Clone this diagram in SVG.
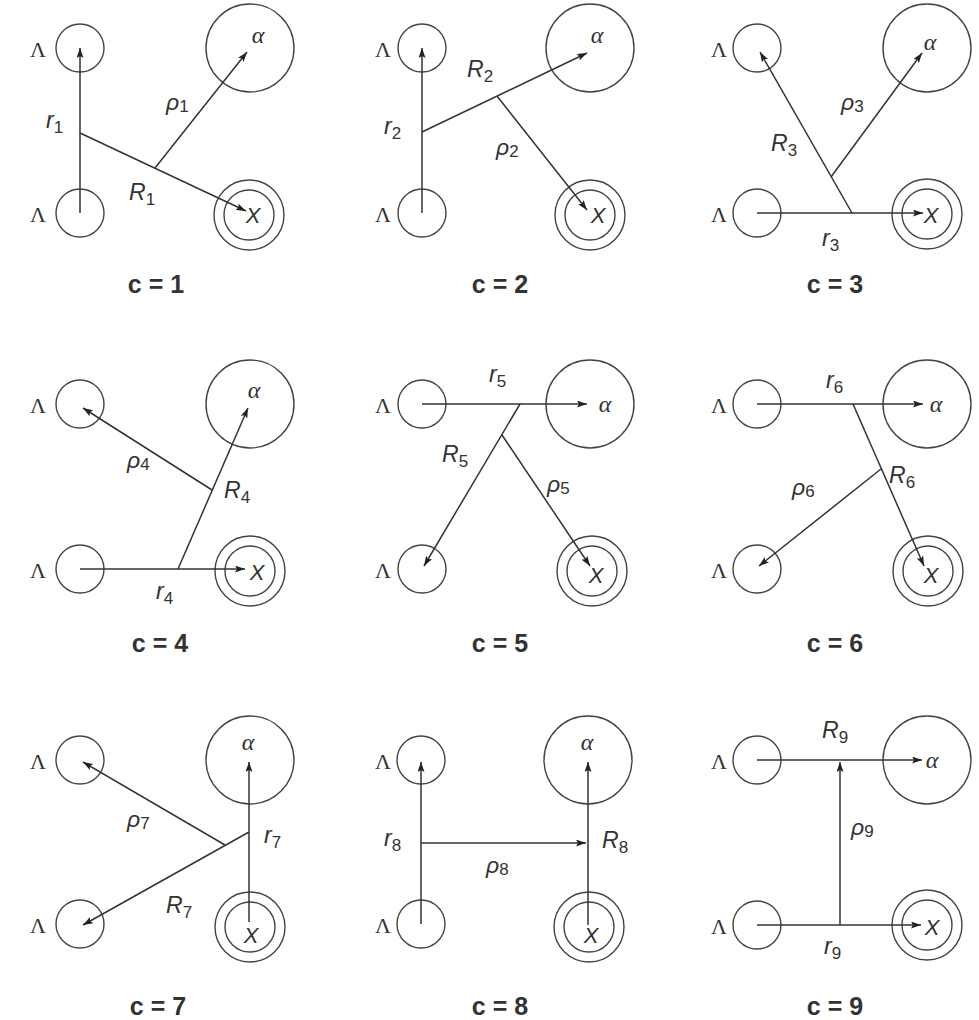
<svg xmlns="http://www.w3.org/2000/svg" width="979" height="1020" viewBox="0 0 979 1020">
<style>
.nd circle{fill:none;stroke:#444;stroke-width:1.4}
.cn path{fill:none;stroke:#333;stroke-width:1.5;marker-end:url(#ah)}
.lam{font-family:"Liberation Serif",serif;font-size:22px;fill:#333;text-anchor:end}
.al{font-family:"Liberation Serif",serif;font-style:italic;font-size:24px;fill:#333;text-anchor:middle}
.xx{font-family:"Liberation Sans",sans-serif;font-style:italic;font-size:22px;fill:#333;text-anchor:middle}
.lb{font-family:"Liberation Sans",sans-serif;font-style:italic;font-size:23px;fill:#333}
.sb{font-style:normal;font-size:17px}
.cap{font-family:"Liberation Sans",sans-serif;font-weight:bold;font-size:25px;fill:#333;text-anchor:middle}
</style>
<defs>
<marker id="ah" viewBox="0 0 10 7" refX="10" refY="3.5" markerWidth="10" markerHeight="7" orient="auto" markerUnits="userSpaceOnUse"><path d="M0,0 L10,3.5 L0,7 L2,3.5 z" fill="#222"/></marker>
</defs>

<!-- Panel 1 -->
<g id="p1">
<g id="p1-lt" class="nd"><circle cx="80" cy="48" r="24"/><text class="lam" x="46" y="57">Λ</text></g>
<g id="p1-lb" class="nd"><circle cx="80" cy="213" r="24"/><text class="lam" x="46" y="222">Λ</text></g>
<g id="p1-a" class="nd"><circle cx="250" cy="48" r="44"/><text class="al" x="258" y="43">α</text></g>
<g id="p1-x" class="nd"><circle cx="249" cy="215" r="35"/><circle cx="249" cy="215" r="25"/><text class="xx" x="253" y="223">X</text></g>
</g>
<!-- Panel 2 -->
<g id="p2">
<g id="p2-lt" class="nd"><circle cx="422" cy="48" r="24"/><text class="lam" x="391" y="57">Λ</text></g>
<g id="p2-lb" class="nd"><circle cx="422" cy="213" r="24"/><text class="lam" x="391" y="222">Λ</text></g>
<g id="p2-a" class="nd"><circle cx="590" cy="48" r="44"/><text class="al" x="597" y="43">α</text></g>
<g id="p2-x" class="nd"><circle cx="590" cy="215" r="35"/><circle cx="590" cy="215" r="25"/><text class="xx" x="598" y="223">X</text></g>
</g>
<!-- Panel 3 -->
<g id="p3">
<g id="p3-lt" class="nd"><circle cx="757" cy="48" r="24"/><text class="lam" x="727" y="57">Λ</text></g>
<g id="p3-lb" class="nd"><circle cx="757" cy="213" r="24"/><text class="lam" x="727" y="222">Λ</text></g>
<g id="p3-a" class="nd"><circle cx="927" cy="48" r="44"/><text class="al" x="930" y="50">α</text></g>
<g id="p3-x" class="nd"><circle cx="927" cy="214" r="35"/><circle cx="927" cy="214" r="25"/><text class="xx" x="931" y="223">X</text></g>
</g>
<!-- Panel 4 -->
<g id="p4">
<g id="p4-lt" class="nd"><circle cx="80" cy="404" r="24"/><text class="lam" x="46" y="413">Λ</text></g>
<g id="p4-lb" class="nd"><circle cx="80" cy="569" r="24"/><text class="lam" x="46" y="578">Λ</text></g>
<g id="p4-a" class="nd"><circle cx="250" cy="404" r="44"/><text class="al" x="254" y="398">α</text></g>
<g id="p4-x" class="nd"><circle cx="250" cy="571" r="35"/><circle cx="250" cy="571" r="25"/><text class="xx" x="257" y="580">X</text></g>
</g>
<!-- Panel 5 -->
<g id="p5">
<g id="p5-lt" class="nd"><circle cx="422" cy="404" r="24"/><text class="lam" x="391" y="413">Λ</text></g>
<g id="p5-lb" class="nd"><circle cx="422" cy="569" r="24"/><text class="lam" x="391" y="578">Λ</text></g>
<g id="p5-a" class="nd"><circle cx="590" cy="404" r="44"/><text class="al" x="605" y="412">α</text></g>
<g id="p5-x" class="nd"><circle cx="592" cy="571" r="35"/><circle cx="592" cy="571" r="25"/><text class="xx" x="596" y="583">X</text></g>
</g>
<!-- Panel 6 -->
<g id="p6">
<g id="p6-lt" class="nd"><circle cx="757" cy="404" r="24"/><text class="lam" x="727" y="413">Λ</text></g>
<g id="p6-lb" class="nd"><circle cx="757" cy="569" r="24"/><text class="lam" x="727" y="578">Λ</text></g>
<g id="p6-a" class="nd"><circle cx="927" cy="404" r="44"/><text class="al" x="936" y="412">α</text></g>
<g id="p6-x" class="nd"><circle cx="928" cy="571" r="35"/><circle cx="928" cy="571" r="25"/><text class="xx" x="931" y="583">X</text></g>
</g>
<!-- Panel 7 -->
<g id="p7">
<g id="p7-lt" class="nd"><circle cx="80" cy="760" r="24"/><text class="lam" x="46" y="769">Λ</text></g>
<g id="p7-lb" class="nd"><circle cx="80" cy="924" r="24"/><text class="lam" x="46" y="933">Λ</text></g>
<g id="p7-a" class="nd"><circle cx="250" cy="760" r="44"/><text class="al" x="248" y="750">α</text></g>
<g id="p7-x" class="nd"><circle cx="250" cy="927" r="35"/><circle cx="250" cy="927" r="25"/><text class="xx" x="251" y="943">X</text></g>
</g>
<!-- Panel 8 -->
<g id="p8">
<g id="p8-lt" class="nd"><circle cx="421" cy="760" r="24"/><text class="lam" x="391" y="769">Λ</text></g>
<g id="p8-lb" class="nd"><circle cx="421" cy="924" r="24"/><text class="lam" x="391" y="933">Λ</text></g>
<g id="p8-a" class="nd"><circle cx="588" cy="760" r="44"/><text class="al" x="587" y="750">α</text></g>
<g id="p8-x" class="nd"><circle cx="589" cy="927" r="35"/><circle cx="589" cy="927" r="25"/><text class="xx" x="591" y="943">X</text></g>
</g>
<!-- Panel 9 -->
<g id="p9">
<g id="p9-lt" class="nd"><circle cx="757" cy="760" r="24"/><text class="lam" x="727" y="769">Λ</text></g>
<g id="p9-lb" class="nd"><circle cx="757" cy="925" r="24"/><text class="lam" x="727" y="934">Λ</text></g>
<g id="p9-a" class="nd"><circle cx="927" cy="760" r="44"/><text class="al" x="932" y="768">α</text></g>
<g id="p9-x" class="nd"><circle cx="927" cy="925" r="35"/><circle cx="927" cy="925" r="25"/><text class="xx" x="932" y="935">X</text></g>
</g>

<g id="connectors" class="cn">
<path d="M80,213 V48"/>
<path d="M80,133 L246,211"/>
<path d="M155,168 L247,52"/>

<path d="M422,213 V48"/>
<path d="M422,132 L587,53"/>
<path d="M497,96 L587,210"/>

<path d="M757,213 H923"/>
<path d="M852,213 L760,52"/>
<path d="M831,177 L922,53"/>

<path d="M80,569 H245"/>
<path d="M178,569 L248,408"/>
<path d="M212,490 L83,408"/>

<path d="M422,404 H587"/>
<path d="M520,404 L424,566"/>
<path d="M502,435 L590,566"/>

<path d="M757,404 H923"/>
<path d="M853,404 L924,566"/>
<path d="M881,469 L759,566"/>

<path d="M249,922 V762"/>
<path d="M225,845 L83,762"/>
<path d="M249,832 L83,925"/>

<path d="M421,924 V762"/>
<path d="M588,925 V762"/>
<path d="M421,843 H586"/>

<path d="M757,760 H922"/>
<path d="M757,925 H921"/>
<path d="M840,925 V762"/>
</g>

<g id="labels">
<text class="lb" x="46" y="128">r<tspan class="sb" dy="5">1</tspan></text>
<text class="lb" x="166" y="110">ρ<tspan class="sb" dy="2">1</tspan></text>
<text class="lb" x="129" y="200">R<tspan class="sb" dy="5">1</tspan></text>

<text class="lb" x="467" y="77">R<tspan class="sb" dy="5">2</tspan></text>
<text class="lb" x="384" y="134">r<tspan class="sb" dy="5">2</tspan></text>
<text class="lb" x="496" y="155">ρ<tspan class="sb" dy="2">2</tspan></text>

<text class="lb" x="841" y="110">ρ<tspan class="sb" dy="2">3</tspan></text>
<text class="lb" x="771" y="151">R<tspan class="sb" dy="5">3</tspan></text>
<text class="lb" x="822" y="246">r<tspan class="sb" dy="5">3</tspan></text>

<text class="lb" x="127" y="468">ρ<tspan class="sb" dy="2">4</tspan></text>
<text class="lb" x="224" y="498">R<tspan class="sb" dy="5">4</tspan></text>
<text class="lb" x="156" y="599">r<tspan class="sb" dy="5">4</tspan></text>

<text class="lb" x="489" y="382">r<tspan class="sb" dy="5">5</tspan></text>
<text class="lb" x="442" y="462">R<tspan class="sb" dy="5">5</tspan></text>
<text class="lb" x="547" y="492">ρ<tspan class="sb" dy="2">5</tspan></text>

<text class="lb" x="826" y="388">r<tspan class="sb" dy="5">6</tspan></text>
<text class="lb" x="889" y="483">R<tspan class="sb" dy="5">6</tspan></text>
<text class="lb" x="792" y="495">ρ<tspan class="sb" dy="2">6</tspan></text>

<text class="lb" x="127" y="827">ρ<tspan class="sb" dy="2">7</tspan></text>
<text class="lb" x="264" y="843">r<tspan class="sb" dy="5">7</tspan></text>
<text class="lb" x="166" y="913">R<tspan class="sb" dy="5">7</tspan></text>

<text class="lb" x="384" y="846">r<tspan class="sb" dy="5">8</tspan></text>
<text class="lb" x="602" y="848">R<tspan class="sb" dy="5">8</tspan></text>
<text class="lb" x="486" y="873">ρ<tspan class="sb" dy="2">8</tspan></text>

<text class="lb" x="822" y="738">R<tspan class="sb" dy="5">9</tspan></text>
<text class="lb" x="851" y="835">ρ<tspan class="sb" dy="2">9</tspan></text>
<text class="lb" x="824" y="954">r<tspan class="sb" dy="5">9</tspan></text>

<text class="cap" x="156" y="293">c = 1</text>
<text class="cap" x="500" y="293">c = 2</text>
<text class="cap" x="835" y="293">c = 3</text>
<text class="cap" x="160" y="652">c = 4</text>
<text class="cap" x="500" y="652">c = 5</text>
<text class="cap" x="835" y="652">c = 6</text>
<text class="cap" x="158" y="1015">c = 7</text>
<text class="cap" x="500" y="1015">c = 8</text>
<text class="cap" x="835" y="1015">c = 9</text>
</g>
</svg>
